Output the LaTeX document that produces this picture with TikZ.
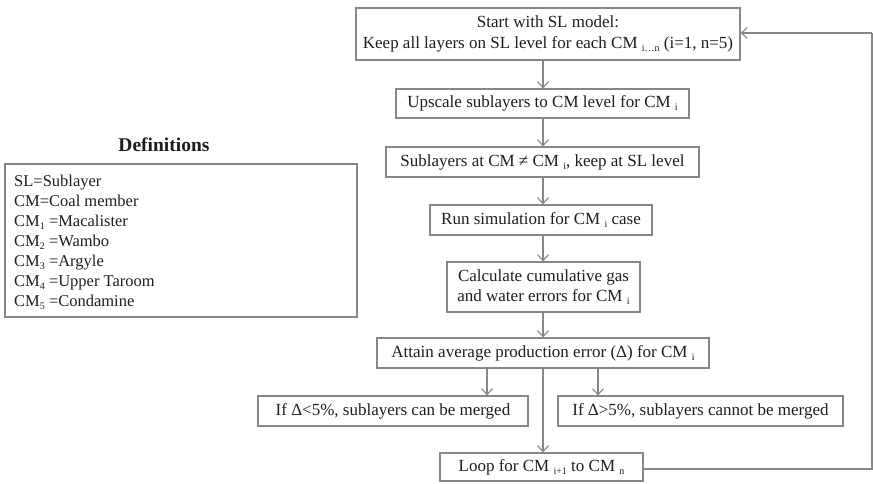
\documentclass[tikz,border=0pt]{standalone}
\usepackage{fontspec}
\setmainfont{Liberation Serif}
\usetikzlibrary{arrows.meta}
\newcommand\sbs[1]{\raisebox{-0.4ex}{\fontsize{10}{10}\selectfont #1}}
\definecolor{linegray}{RGB}{135,135,135}
\definecolor{txt}{RGB}{30,30,30}
\tikzset{
  flowbox/.style={draw=linegray, line width=1.2pt, inner sep=0pt, text=txt,
    font=\fontsize{17}{21}\selectfont, align=center},
  arr/.style={draw=linegray, line width=1.1pt, -{Straight Barb[length=6pt,width=11pt,line width=1.1pt]}},
  ln/.style={draw=linegray, line width=1.2pt}
}
\begin{document}
\begin{tikzpicture}[x=1pt,y=-1pt]
\useasboundingbox (0,0) rectangle (873,483);
\node[flowbox, minimum width=384pt, minimum height=52pt] (b1) at (548,34)
  {Start with SL model:\\Keep all layers on SL level for each CM \sbs{i\ldots n} (i=1, n=5)};
\node[flowbox, minimum width=293pt, minimum height=29pt] (b2) at (542.5,103.5)
  {Upscale sublayers to CM level for CM \sbs{i}};
\node[flowbox, minimum width=313pt, minimum height=30pt] (b3) at (542.5,162)
  {Sublayers at CM ≠ CM \sbs{i}, keep at SL level};
\node[flowbox, minimum width=222pt, minimum height=30pt] (b4) at (541,220)
  {Run simulation for CM \sbs{i} case};
\node[flowbox, minimum width=193pt, minimum height=50pt, font=\fontsize{17}{20}\selectfont] (b5) at (543.5,287)
  {Calculate cumulative gas\\and water errors for CM \sbs{i}};
\node[flowbox, minimum width=332pt, minimum height=30pt] (b6) at (543,353)
  {Attain average production error (Δ) for CM \sbs{i}};
\node[flowbox, minimum width=270pt, minimum height=30pt] (b7) at (393,411)
  {If Δ<5\%, sublayers can be merged};
\node[flowbox, minimum width=285pt, minimum height=30pt] (b8) at (700.5,411)
  {If Δ>5\%, sublayers cannot be merged};
\node[flowbox, minimum width=203pt, minimum height=28pt] (b9) at (541.5,467)
  {Loop for CM \sbs{i+1} to CM \sbs{n}};
\node[text=txt, font=\fontsize{19.5}{22}\selectfont\bfseries] (title) at (164,145) {Definitions};
\node[flowbox, minimum width=352pt, minimum height=153pt] (defs) at (181,240.5) {};
\node[text=txt, font=\fontsize{16.5}{20}\selectfont, align=left, anchor=north west, inner sep=0pt] (deftext) at (14,175)
  {SL=Sublayer\\CM=Coal member\\CM\sbs{1} =Macalister\\CM\sbs{2} =Wambo\\CM\sbs{3} =Argyle\\CM\sbs{4} =Upper Taroom\\CM\sbs{5} =Condamine};
\coordinate (xa) at (543,0);
\coordinate (x7) at (487,0);
\coordinate (x8) at (598,0);
\coordinate (rtop) at (872,33);
\coordinate (rbot) at (872,469);
\draw[arr] (b1.south -| xa) -- (b2.north -| xa);
\draw[arr] (b2.south -| xa) -- (b3.north -| xa);
\draw[arr] (b3.south -| xa) -- (b4.north -| xa);
\draw[arr] (b4.south -| xa) -- (b5.north -| xa);
\draw[arr] (b5.south -| xa) -- (b6.north -| xa);
\draw[arr] (b6.south -| x7) -- (b7.north -| x7);
\draw[arr] (b6.south -| x8) -- (b8.north -| x8);
\draw[arr] (b6.south -| xa) -- (b9.north -| xa);
\draw[ln] (b9.east |- rbot) -- (rbot) -- (rtop);
\draw[arr] (rtop) -- (b1.east |- rtop);
\end{tikzpicture}
\end{document}
